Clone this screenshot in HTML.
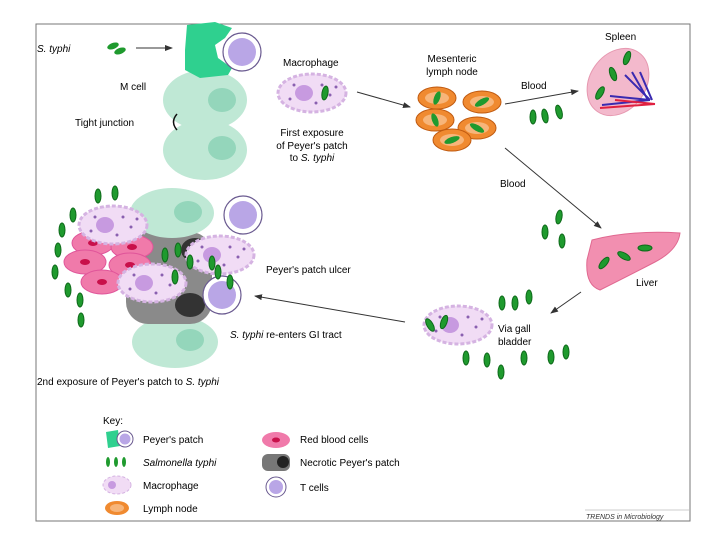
<!DOCTYPE html>
<html><head><meta charset="utf-8"><style>
html,body{margin:0;padding:0;background:#fff;}
svg{display:block;font-family:"Liberation Sans",sans-serif;}
</style></head><body>
<svg width="720" height="540" viewBox="0 0 720 540" xmlns="http://www.w3.org/2000/svg">
<defs>
<marker id="ar" markerWidth="8" markerHeight="6" refX="7" refY="3" orient="auto"><path d="M0,0 L8,3 L0,6 z" fill="#333"/></marker>
<g id="bac"><ellipse cx="0" cy="0" rx="3" ry="7" fill="#1f9a2e" stroke="#0e6a1a" stroke-width="1"/></g>
<g id="tc"><circle r="19" fill="#fff" stroke="#6a5a90" stroke-width="1.2"/><circle r="14" fill="#b9a6e6"/></g>
<g id="mac"><ellipse rx="34" ry="19" fill="#f1dcf5" stroke="#d5b3e2" stroke-width="3" stroke-dasharray="4 2"/><ellipse cx="-8" cy="0" rx="9" ry="8" fill="#c79ae0"/>
<circle cx="10" cy="-8" r="1.5" fill="#8a60b0"/><circle cx="18" cy="2" r="1.5" fill="#8a60b0"/><circle cx="-22" cy="6" r="1.5" fill="#8a60b0"/><circle cx="4" cy="10" r="1.5" fill="#8a60b0"/><circle cx="-18" cy="-8" r="1.5" fill="#8a60b0"/><circle cx="24" cy="-6" r="1.5" fill="#8a60b0"/></g>
<g id="rbc"><ellipse rx="21" ry="12" fill="#f07aaa" stroke="#e0559a"/><ellipse rx="5" ry="3" fill="#c8104a"/></g>
<g id="ln"><ellipse rx="19" ry="11" fill="#f08a30" stroke="#c05a10"/><ellipse rx="12" ry="6" fill="#f7b57a"/></g>
</defs>
<rect x="36" y="24" width="654" height="497" fill="#fff" stroke="#777" stroke-width="1"/>

<!-- top left -->
<text x="37" y="52" font-size="10" font-style="italic">S. typhi</text>
<ellipse cx="113" cy="46" rx="6" ry="3" fill="#1f9a2e" transform="rotate(-20 113 46)"/>
<ellipse cx="120" cy="51" rx="6" ry="3" fill="#1f9a2e" transform="rotate(-20 120 51)"/>
<line x1="136" y1="48" x2="172" y2="48" stroke="#333" marker-end="url(#ar)"/>
<ellipse cx="205" cy="100" rx="42" ry="30" fill="#bfe8d5"/><ellipse cx="222" cy="100" rx="14" ry="12" fill="#94d6bb"/>
<ellipse cx="205" cy="150" rx="42" ry="30" fill="#bfe8d5"/><ellipse cx="222" cy="148" rx="14" ry="12" fill="#94d6bb"/>
<path d="M187,25 L215,22 L232,28 L225,38 L215,45 L218,58 L232,68 L228,75 L200,78 L185,70 L185,50 Z" fill="#2fd08f"/>
<use href="#tc" x="242" y="52"/>
<text x="120" y="90" font-size="10">M cell</text>
<text x="75" y="126" font-size="10">Tight junction</text>
<path d="M177,114 Q170,122 177,130" fill="none" stroke="#111" stroke-width="1.5"/>
<text x="283" y="66" font-size="10">Macrophage</text>
<use href="#mac" x="312" y="93"/>
<use href="#bac" x="325" y="93" transform="rotate(10 325 93)"/>
<text font-size="10" text-anchor="middle"><tspan x="312" y="136">First exposure</tspan><tspan x="312" y="149">of Peyer's patch</tspan><tspan x="312" y="161">to <tspan font-style="italic">S. typhi</tspan></tspan></text>
<line x1="357" y1="92" x2="410" y2="107" stroke="#333" marker-end="url(#ar)"/>

<!-- lymph node -->
<text font-size="10" text-anchor="middle"><tspan x="452" y="62">Mesenteric</tspan><tspan x="452" y="75">lymph node</tspan></text>
<use href="#ln" x="437" y="98"/><use href="#ln" x="482" y="102"/><use href="#ln" x="435" y="120"/><use href="#ln" x="477" y="128"/><use href="#ln" x="452" y="140"/>
<g fill="#1f9a2e"><ellipse cx="437" cy="98" rx="3" ry="7" transform="rotate(20 437 98)"/><ellipse cx="482" cy="102" rx="3" ry="8" transform="rotate(60 482 102)"/><ellipse cx="435" cy="120" rx="3" ry="7" transform="rotate(-20 435 120)"/><ellipse cx="477" cy="128" rx="3" ry="8" transform="rotate(-60 477 128)"/><ellipse cx="452" cy="140" rx="3" ry="8" transform="rotate(70 452 140)"/></g>
<text x="521" y="89" font-size="10">Blood</text>
<line x1="505" y1="104" x2="578" y2="91" stroke="#333" marker-end="url(#ar)"/>
<use href="#bac" x="533" y="117"/><use href="#bac" x="545" y="116" transform="rotate(-10 545 116)"/><use href="#bac" x="559" y="112" transform="rotate(-15 559 112)"/>

<!-- spleen -->
<text x="605" y="40" font-size="10">Spleen</text>
<ellipse cx="618" cy="82" rx="28" ry="36" fill="#f3b9cc" stroke="#e698b0" transform="rotate(35 618 82)"/>
<g stroke-width="2" fill="none"><path d="M602,105 L650,100 M610,96 L650,100 M625,75 L650,100 M632,72 L648,100 M640,72 L652,100" stroke="#3a2ab0"/><path d="M600,108 L655,104 M615,100 L655,104" stroke="#e02040"/></g>
<use href="#bac" x="627" y="58" transform="rotate(20 627 58)"/><use href="#bac" x="613" y="74" transform="rotate(-20 613 74)"/><use href="#bac" x="600" y="93" transform="rotate(30 600 93)"/>

<line x1="505" y1="148" x2="601" y2="228" stroke="#333" marker-end="url(#ar)"/>
<text x="500" y="187" font-size="10">Blood</text>
<use href="#bac" x="545" y="232"/><use href="#bac" x="559" y="217" transform="rotate(10 559 217)"/><use href="#bac" x="562" y="241"/>

<!-- liver -->
<path d="M592,240 Q630,230 680,233 Q678,250 655,262 Q630,275 600,290 Q585,285 587,260 Z" fill="#f28fb0" stroke="#e06890"/>
<use href="#bac" x="604" y="263" transform="rotate(40 604 263)"/><use href="#bac" x="624" y="256" transform="rotate(-60 624 256)"/><use href="#bac" x="645" y="248" transform="rotate(90 645 248)"/>
<text x="636" y="286" font-size="10">Liver</text>
<line x1="581" y1="292" x2="551" y2="313" stroke="#333" marker-end="url(#ar)"/>
<text font-size="10"><tspan x="498" y="332">Via gall</tspan><tspan x="498" y="345">bladder</tspan></text>
<use href="#bac" x="502" y="303"/><use href="#bac" x="515" y="303"/><use href="#bac" x="529" y="297"/>
<use href="#bac" x="466" y="358"/><use href="#bac" x="487" y="360"/><use href="#bac" x="501" y="372"/><use href="#bac" x="524" y="358"/><use href="#bac" x="551" y="357"/><use href="#bac" x="566" y="352"/>
<use href="#mac" x="458" y="325" transform="rotate(0)"/>
<use href="#bac" x="430" y="325" transform="rotate(-30 430 325)"/><use href="#bac" x="444" y="322" transform="rotate(20 444 322)"/>
<line x1="405" y1="322" x2="255" y2="296" stroke="#333" marker-end="url(#ar)"/>
<text x="230" y="338" font-size="10"><tspan font-style="italic">S. typhi</tspan> re-enters GI tract</text>
<text x="266" y="273" font-size="10">Peyer's patch ulcer</text>

<!-- second exposure cluster -->
<ellipse cx="175" cy="342" rx="43" ry="26" fill="#bfe8d5"/><ellipse cx="190" cy="340" rx="14" ry="11" fill="#94d6bb"/>
<rect x="126" y="232" width="86" height="92" rx="22" fill="#8a8a8a"/>
<ellipse cx="195" cy="250" rx="14" ry="12" fill="#333"/><ellipse cx="190" cy="305" rx="15" ry="12" fill="#333"/>
<ellipse cx="172" cy="213" rx="42" ry="25" fill="#bfe8d5"/><ellipse cx="188" cy="212" rx="14" ry="11" fill="#94d6bb"/>
<use href="#tc" x="243" y="215"/>
<use href="#rbc" x="93" y="243"/><use href="#rbc" x="132" y="247"/><use href="#rbc" x="85" y="262"/><use href="#rbc" x="130" y="265"/><use href="#rbc" x="102" y="282"/>
<use href="#mac" x="113" y="225"/><use href="#mac" x="220" y="255"/><use href="#mac" x="152" y="283"/>
<use href="#tc" x="222" y="295"/>
<use href="#bac" x="98" y="196"/><use href="#bac" x="115" y="193"/><use href="#bac" x="73" y="215"/><use href="#bac" x="62" y="230"/><use href="#bac" x="58" y="250"/><use href="#bac" x="55" y="272"/><use href="#bac" x="68" y="290"/><use href="#bac" x="80" y="300"/><use href="#bac" x="81" y="320"/>
<use href="#bac" x="165" y="255"/><use href="#bac" x="178" y="250"/><use href="#bac" x="190" y="262"/><use href="#bac" x="175" y="277"/><use href="#bac" x="212" y="263"/><use href="#bac" x="218" y="272"/><use href="#bac" x="230" y="282"/>
<text x="37" y="385" font-size="10">2nd exposure of Peyer's patch to <tspan font-style="italic">S. typhi</tspan></text>

<!-- key -->
<text x="103" y="424" font-size="10">Key:</text>
<path d="M106,432 L118,430 L120,446 L108,448 Z" fill="#2fd08f"/><circle cx="125" cy="439" r="8" fill="#fff" stroke="#6a5a90"/><circle cx="125" cy="439" r="5.5" fill="#b9a6e6"/>
<text x="143" y="443" font-size="10">Peyer's patch</text>
<g fill="#1f9a2e"><ellipse cx="108" cy="462" rx="2" ry="5"/><ellipse cx="116" cy="462" rx="2" ry="5"/><ellipse cx="124" cy="462" rx="2" ry="5"/></g>
<text x="143" y="466" font-size="10" font-style="italic">Salmonella typhi</text>
<ellipse cx="117" cy="485" rx="14" ry="9" fill="#f1dcf5" stroke="#d5b3e2" stroke-dasharray="3 2"/><circle cx="112" cy="485" r="4" fill="#c79ae0"/>
<text x="143" y="489" font-size="10">Macrophage</text>
<ellipse cx="117" cy="508" rx="12" ry="7" fill="#f08a30"/><ellipse cx="117" cy="508" rx="7" ry="4" fill="#f7b57a"/>
<text x="143" y="512" font-size="10">Lymph node</text>
<ellipse cx="276" cy="440" rx="14" ry="8" fill="#f07aaa"/><ellipse cx="276" cy="440" rx="4" ry="2.5" fill="#c8104a"/>
<text x="300" y="443" font-size="10">Red blood cells</text>
<rect x="262" y="454" width="28" height="17" rx="6" fill="#777"/><ellipse cx="283" cy="462" rx="6" ry="6" fill="#222"/>
<text x="300" y="466" font-size="10">Necrotic Peyer's patch</text>
<circle cx="276" cy="487" r="10" fill="#fff" stroke="#6a5a90"/><circle cx="276" cy="487" r="7" fill="#b9a6e6"/>
<text x="300" y="491" font-size="10">T cells</text>
<line x1="585" y1="510" x2="689" y2="510" stroke="#999" stroke-width="0.5"/>
<text x="586" y="519" font-size="7" font-style="italic" fill="#333">TRENDS in Microbiology</text>
</svg>
</body></html>
